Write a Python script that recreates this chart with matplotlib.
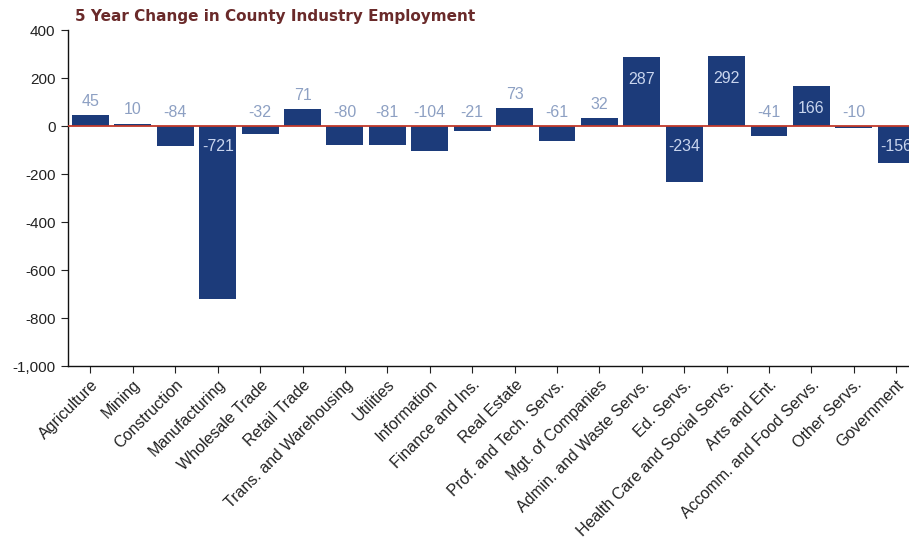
import matplotlib
matplotlib.use("Agg")
import matplotlib.pyplot as plt
from matplotlib.ticker import FuncFormatter

categories = ["Agriculture", "Mining", "Construction", "Manufacturing", "Wholesale Trade",
              "Retail Trade", "Trans. and Warehousing", "Utilities", "Information",
              "Finance and Ins.", "Real Estate", "Prof. and Tech. Servs.", "Mgt. of Companies",
              "Admin. and Waste Servs.", "Ed. Servs.", "Health Care and Social Servs.",
              "Arts and Ent.", "Accomm. and Food Servs.", "Other Servs.", "Government"]
values = [45, 10, -84, -721, -32, 71, -80, -81, -104, -21, 73, -61, 32, 287, -234, 292, -41, 166, -10, -156]
yticks = [400, 200, 0, -200, -400, -600, -800, -1000]

plt.rcParams['font.family'] = ['Liberation Sans', 'DejaVu Sans']

fig = plt.figure(figsize=(9.09, 5.54), dpi=100)
ax = fig.add_axes([68/909, 1-366/554, 1-68/909, 336/554])

x = list(range(len(categories)))
bar_color = '#1c3b7a'
ax.bar(x, values, width=0.87, color=bar_color, zorder=2)
ax.axhline(0, color='#c0392b', linewidth=1.3, zorder=3)

out_col = '#8da0c3'
in_col = '#c9d5ee'
for xi, v in zip(x, values):
    if abs(v) > 150:
        if v > 0:
            ax.annotate(str(v), (xi, v), xytext=(0, -16), textcoords='offset points',
                        ha='center', va='center', fontsize=11.5, color=in_col, zorder=4,
                        annotation_clip=False, clip_on=True)
        else:
            ax.annotate(str(v), (xi, 0), xytext=(0, -14.5), textcoords='offset points',
                        ha='center', va='center', fontsize=11.5, color=in_col, zorder=4,
                        annotation_clip=False, clip_on=True)
    else:
        base = max(v, 0)
        ax.annotate(str(v), (xi, base), xytext=(0, 10), textcoords='offset points',
                    ha='center', va='center', fontsize=11.5, color=out_col, zorder=4)

ax.set_xlim(-0.53, 19.3)
ax.set_ylim(-1000, 400)
ax.set_yticks(yticks)
ax.yaxis.set_major_formatter(FuncFormatter(lambda v, p: f"{int(v):,}"))
ax.set_xticks(x)
ax.set_xticklabels(categories, rotation=45, ha='right', va='top', rotation_mode='anchor')
ax.tick_params(axis='both', colors='#222222', length=5, width=0.8, direction='out')
ax.tick_params(axis='y', labelsize=11, pad=4)
ax.tick_params(axis='x', labelsize=11.5, pad=3)
for s in ['top', 'right']:
    ax.spines[s].set_visible(False)
for s in ['left', 'bottom']:
    ax.spines[s].set_color('#111111')
    ax.spines[s].set_linewidth(1.0)

fig.text(75/909, 1-16/554, "5 Year Change in County Industry Employment", fontsize=11,
         fontweight='bold', color='#6a2a2a', ha='left', va='center',
         family=['DejaVu Sans'])

fig.savefig("out.png", dpi=100)
